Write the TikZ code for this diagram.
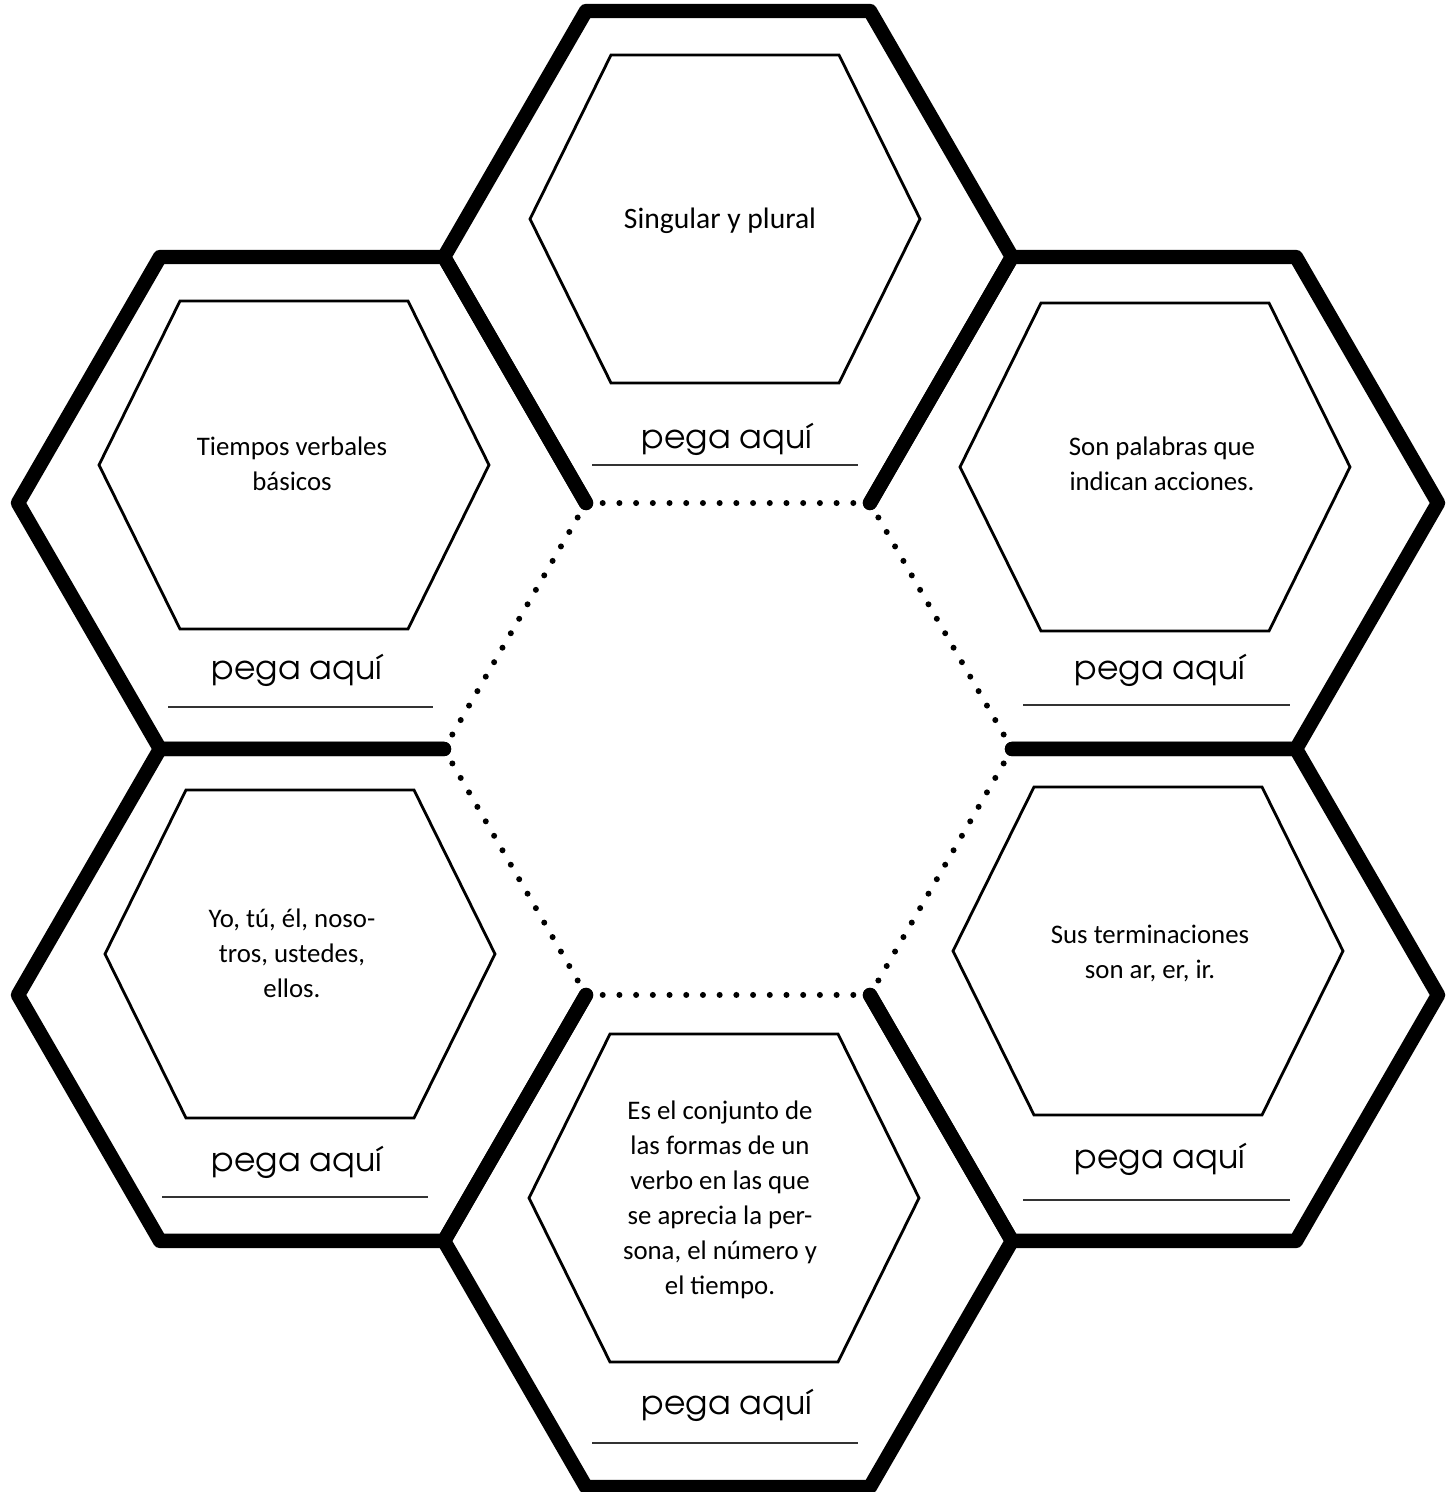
\documentclass[tikz,border=0pt]{standalone}
\usepackage{fontspec}
\setmainfont{Carlito}
\newfontfamily\pegafont{texgyreadventor-regular.otf}

\begin{document}
\begin{tikzpicture}[x=0.5pt, y=0.5pt, rim/.style={line width=7.2pt, line cap=round, line join=round}, seam/.style={line width=3pt, line cap=round, dash pattern=on 0pt off 8.353pt}, card/.style={draw, line width=1.4pt}, txt/.style={align=center, font=\fontsize{13.4}{17.5}\selectfont}, peg/.style={anchor=base, font=\pegafont\fontsize{16.5}{20}\selectfont}, rule/.style={line width=0.9pt, black!80}]
                \useasboundingbox (0,0) rectangle (1453,1492);
                % cells
                \coordinate (C) at (728,743);
                \coordinate (T) at (728,1235);
                \coordinate (UL) at (302,989);
                \coordinate (UR) at (1154,989);
                \coordinate (LL) at (302,497);
                \coordinate (LR) at (1154,497);
                \coordinate (B) at (728,251);
                % thick rims
                \draw[rim, shift={(T)}] (300:284) -- (0:284) -- (60:284) -- (120:284) -- (180:284) -- (240:284);
                \draw[rim, shift={(UL)}] (0:284) -- (60:284) -- (120:284) -- (180:284) -- (240:284) -- (300:284);
                \draw[rim, shift={(LL)}] (60:284) -- (120:284) -- (180:284) -- (240:284) -- (300:284) -- (0:284);
                \draw[rim, shift={(B)}] (120:284) -- (180:284) -- (240:284) -- (300:284) -- (0:284) -- (60:284);
                \draw[rim, shift={(LR)}] (180:284) -- (240:284) -- (300:284) -- (0:284) -- (60:284) -- (120:284);
                \draw[rim, shift={(UR)}] (240:284) -- (300:284) -- (0:284) -- (60:284) -- (120:284) -- (180:284);
                % dotted middle
                \draw[seam, shift={(C)}] (0:284) -- (60:284) -- (120:284) -- (180:284) -- (240:284) -- (300:284) -- cycle;
                % inner cards
                \coordinate (h1) at (725,1273);
                \coordinate (h2) at (294,1027);
                \coordinate (h3) at (1155,1025);
                \coordinate (h4) at (300,538);
                \coordinate (h5) at (1148,541);
                \coordinate (h6) at (724,294);
                \draw[card] (h1) ++(-114,164) -- ++(228,0) -- ++(81,-164) -- ++(-81,-164) -- ++(-228,0) -- ++(-81,164) -- cycle;
                \draw[card] (h2) ++(-114,164) -- ++(228,0) -- ++(81,-164) -- ++(-81,-164) -- ++(-228,0) -- ++(-81,164) -- cycle;
                \draw[card] (h3) ++(-114,164) -- ++(228,0) -- ++(81,-164) -- ++(-81,-164) -- ++(-228,0) -- ++(-81,164) -- cycle;
                \draw[card] (h4) ++(-114,164) -- ++(228,0) -- ++(81,-164) -- ++(-81,-164) -- ++(-228,0) -- ++(-81,164) -- cycle;
                \draw[card] (h5) ++(-114,164) -- ++(228,0) -- ++(81,-164) -- ++(-81,-164) -- ++(-228,0) -- ++(-81,164) -- cycle;
                \draw[card] (h6) ++(-114,164) -- ++(228,0) -- ++(81,-164) -- ++(-81,-164) -- ++(-228,0) -- ++(-81,164) -- cycle;
                % texts
                \node[txt, font=\fontsize{14.8}{17.5}\selectfont] (t1) at (720,1271) {Singular y plural};
                \node[txt] (t2) at (292,1028) {Tiempos verbales\\básicos};
                \node[txt] (t3) at (1162,1028) {Son palabras que\\indican acciones.};
                \node[txt] (t4) at (292,539) {Yo, tú, él, noso-\\tros, ustedes,\\ellos.};
                \node[txt] (t5) at (1150,538) {Sus terminaciones\\son ar, er, ir.};
                \node[txt] (t6) at (720,292) {Es el conjunto de\\las formas de un\\verbo en las que\\se aprecia la per-\\sona, el número y\\el tiempo.};
                % pega aqui
                \node[peg] (p1) at (727,1043) {pega aquí};
                \node[peg] (p2) at (297,812) {pega aquí};
                \node[peg] (p3) at (1160,812) {pega aquí};
                \node[peg] (p4) at (297,320) {pega aquí};
                \node[peg] (p5) at (1160,323) {pega aquí};
                \node[peg] (p6) at (727,77) {pega aquí};
                \draw[rule] (592,1027) -- (858,1027);
                \draw[rule] (168,785) -- (433,785);
                \draw[rule] (1023,787) -- (1290,787);
                \draw[rule] (162,295) -- (428,295);
                \draw[rule] (1023,292) -- (1290,292);
                \draw[rule] (592,49) -- (858,49);
            \end{tikzpicture}
\end{document}
